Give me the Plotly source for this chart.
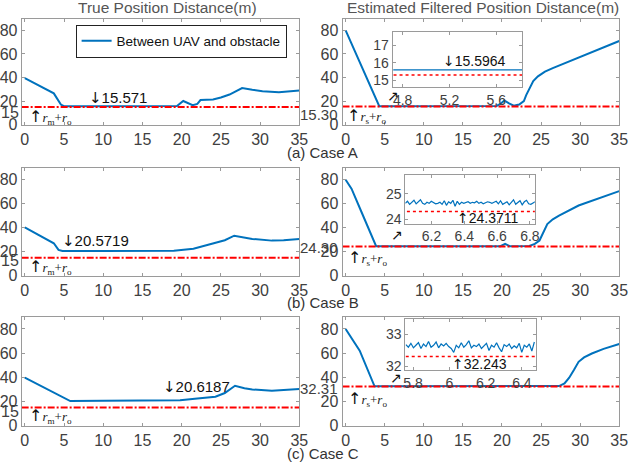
import plotly.graph_objects as go

W, H = 640, 471

# Case A
t_a_true = [0, 3.7, 4.6, 5.0, 10, 15, 19.4, 20.2, 20.8, 21.4, 22.0, 22.4, 24.0, 25.0, 26.1, 27.7, 29.0, 30.3, 32.4, 35]
d_a_true = [39.5, 26.5, 17.0, 15.6, 15.6, 15.6, 15.7, 20.0, 18.0, 16.5, 17.5, 20.8, 21.4, 23.0, 25.5, 31.0, 29.5, 28.4, 27.5, 28.9]
t_a_est = [0, 2, 4.3, 5, 10, 15, 19.3, 19.8, 20.3, 20.9, 21.5, 22.2, 22.8, 23.1, 23.5, 24.0, 24.6, 25.5, 26.5, 28, 30.6, 33, 35]
d_a_est = [80, 50, 15.6, 15.6, 15.6, 15.6, 15.8, 17.5, 20.5, 18, 16, 17, 20, 25, 31, 37, 41, 45, 48, 52, 59, 65.5, 71]

# Case B
t_b_true = [0, 3.7, 4.3, 4.8, 10, 15, 19, 21.5, 24, 25.5, 26.7, 28, 29, 31.5, 33, 35]
d_b_true = [40.2, 27, 21.5, 20.6, 20.6, 20.6, 20.8, 22.4, 26.5, 29.5, 33.3, 31.5, 30.6, 29.2, 29.5, 30.6]
t_b_est = [0, 0.75, 2, 3.9, 10, 15, 19.8, 20.4, 21, 23.5, 24.2, 24.8, 25.3, 25.8, 26.5, 27.3, 29.8, 32, 35]
d_b_est = [80, 72.5, 53.5, 24.5, 24.5, 24.5, 24.6, 26.5, 24.6, 24.7, 26.5, 29.3, 36, 43, 47, 50, 58.5, 63.5, 70.5]

# Case C
t_c_true = [0, 3.8, 5.8, 10, 15, 18, 19.8, 22, 24.3, 25.5, 26.8, 28, 29, 31.5, 33, 35]
d_c_true = [39.8, 26.7, 20.4, 20.6, 20.6, 20.6, 21, 22.5, 24, 27, 33, 31, 30, 29, 29.3, 30.3]
t_c_est = [0, 1.8, 3.7, 10, 15, 20, 25, 27.3, 28, 28.6, 29.2, 29.8, 30.5, 31.5, 33, 35]
d_c_est = [80, 62, 32.6, 32.6, 32.6, 32.6, 32.6, 32.8, 35, 39.7, 46, 52.8, 56.5, 59.7, 63.5, 67.5]

# safety distances (r_m + r_o, r_s + r_o)
safe_true = 15
safe_est = [15.30, 24.30, 32.31]
min_true = ["15.571", "20.5719", "20.6187"]
min_est = ["15.5964", "24.3711", "32.243"]

# zoomed windows
t_zoom_a = [4.72, 5.0, 5.3, 5.6, 5.82]
d_zoom_a = [15.5964, 15.5964, 15.5964, 15.5964, 15.5964]
d_zoom_b = [24.62, 24.70, 24.58, 24.66, 24.74, 24.60, 24.68, 24.76, 24.62, 24.58, 24.66, 24.62, 24.70,
            24.64, 24.60, 24.62, 24.66, 24.58, 24.72, 24.54, 24.68, 24.62, 24.74, 24.50, 24.70, 24.58,
            24.66, 24.62, 24.64, 24.68, 24.62, 24.66, 24.64, 24.70, 24.62, 24.66, 24.60, 24.64, 24.68,
            24.66, 24.62, 24.66, 24.70, 24.60, 24.72, 24.58, 24.64, 24.68, 24.56, 24.66, 24.76, 24.58,
            24.64, 24.72, 24.56, 24.68, 24.74, 24.60, 24.58, 24.64, 24.68]
t_zoom_b = [round(6.04 + 0.0132 * i, 4) for i in range(len(d_zoom_b))]
d_zoom_c = [32.68, 32.60, 32.72, 32.58, 32.66, 32.74, 32.56, 32.70, 32.62, 32.78, 32.60, 32.66, 32.76,
            32.58, 32.70, 32.64, 32.72, 32.62, 32.56, 32.44, 32.66, 32.58, 32.74, 32.60, 32.68, 32.80,
            32.58, 32.66, 32.62, 32.70, 32.56, 32.64, 32.72, 32.50, 32.66, 32.60, 32.74, 32.58, 32.46,
            32.68, 32.62, 32.70, 32.56, 32.64, 32.58, 32.72, 32.44, 32.66, 32.60, 32.70, 32.48, 32.76]
t_zoom_c = [round(5.76 + 0.0139 * i, 4) for i in range(len(d_zoom_c))]

BLUE = "#0072BD"
RED = "#FF0000"
GRAY = "#404040"
FRAME = "#9a9a9a"
FONT = "Liberation Sans"
DASHDOT = "7px,2px,2px,2px"


def px(x):
    return x / W


def py(y):
    return 1 - y / H


def arrow(ch, size):
    return f"<span style='font-family:DejaVu Sans;font-size:{size}px;color:#111111'>{ch}</span>"


fig = go.Figure()

main = [(t_a_true, d_a_true, t_a_est, d_a_est),
        (t_b_true, d_b_true, t_b_est, d_b_est),
        (t_c_true, d_c_true, t_c_est, d_c_est)]

for r, (tt, dt, te, de) in enumerate(main):
    xl, xr = 2 * r + 1, 2 * r + 2
    fig.add_trace(go.Scatter(x=tt, y=dt, mode="lines", line=dict(color=BLUE, width=2),
                             name="Between UAV and obstacle", showlegend=(r == 0),
                             xaxis=f"x{xl}", yaxis=f"y{xl}"))
    fig.add_trace(go.Scatter(x=[-0.4, 35], y=[safe_true, safe_true], mode="lines",
                             line=dict(color=RED, width=2, dash=DASHDOT), showlegend=False,
                             xaxis=f"x{xl}", yaxis=f"y{xl}"))
    fig.add_trace(go.Scatter(x=te, y=de, mode="lines", line=dict(color=BLUE, width=2),
                             showlegend=False, xaxis=f"x{xr}", yaxis=f"y{xr}"))
    fig.add_trace(go.Scatter(x=[-0.4, 35], y=[safe_est[r], safe_est[r]], mode="lines",
                             line=dict(color=RED, width=2, dash=DASHDOT), showlegend=False,
                             xaxis=f"x{xr}", yaxis=f"y{xr}"))

zooms = [(t_zoom_a, d_zoom_a), (t_zoom_b, d_zoom_b), (t_zoom_c, d_zoom_c)]
for i, (tz, dz) in enumerate(zooms):
    n = 7 + i
    fig.add_trace(go.Scatter(x=tz, y=dz, mode="lines", line=dict(color=BLUE, width=1.2),
                             showlegend=False, xaxis=f"x{n}", yaxis=f"y{n}"))
    fig.add_trace(go.Scatter(x=[tz[0] - 0.1, tz[-1] + 0.1], y=[safe_est[i], safe_est[i]], mode="lines",
                             line=dict(color=RED, width=1.5, dash="dot"), showlegend=False,
                             xaxis=f"x{n}", yaxis=f"y{n}"))


def axes(n, xdom, ydom, xrange, yrange, xticks, yticks, size):
    common = dict(showline=True, linecolor=FRAME, linewidth=1, mirror="ticks", ticks="inside",
                  ticklen=3, tickcolor=FRAME, showgrid=False, zeroline=False,
                  tickfont=dict(size=size, color=GRAY, family=FONT))
    suffix = "" if n == 1 else str(n)
    fig.layout["xaxis" + suffix] = dict(domain=xdom, range=xrange, tickvals=xticks,
                                        anchor="y" + suffix, **common)
    fig.layout["yaxis" + suffix] = dict(domain=ydom, range=yrange, tickvals=yticks,
                                        anchor="x" + suffix, **common)


left = [px(19), px(302)]
right = [px(346), px(628)]
rows = [[py(127), py(19)], [py(281), py(171)], [py(434), py(323)]]
xt = [0, 5, 10, 15, 20, 25, 30, 35]
yt = [0, 20, 40, 60, 80]
for r in range(3):
    axes(2 * r + 1, left, rows[r], [-0.4, 35], [0, 90], xt, yt, 16)
    axes(2 * r + 2, right, rows[r], [-0.4, 35], [0, 90], xt, yt, 16)

axes(7, [px(397), px(529)], [py(89), py(33)], [4.714, 5.82], [14.6, 17.75], [4.8, 5.2, 5.6], [15, 16, 17], 14)
axes(8, [px(410), px(542)], [py(228), py(178)], [6.04, 6.83], [23.82, 25.75], [6.2, 6.4, 6.6, 6.8], [24, 25], 14)
axes(9, [px(410), px(543)], [py(377), py(325)], [5.757, 6.477], [31.9, 33.48], [5.8, 6, 6.2, 6.4], [32, 33], 14)

ann = []


def note(text, x, y, xanchor="left", size=14, color="#111111"):
    ann.append(dict(text=text, x=px(x), y=py(y), xref="paper", yref="paper", xanchor=xanchor,
                    yanchor="middle", showarrow=False, font=dict(size=size, color=color, family=FONT)))


r_true = arrow("↑", 16) + "<i>r</i><sub>m</sub>+<i>r</i><sub>o</sub>"
r_est = arrow("↑", 16) + "<i>r</i><sub>s</sub>+<i>r</i><sub>o</sub>"

note("True Position Distance(m)", 168, 8, "center", 15.5, "#555555")
note("Estimated Filtered Position Distance(m)", 489, 8, "center", 15.5, "#555555")
for cap, y in [("(a) Case A", 155), ("(b) Case B", 308), ("(c) Case C", 462)]:
    note(cap, 326, y, "center", 15, "#333333")

# left column
for y15, (xm, ym), (xr, yr), m in zip([115, 266, 420], [(86, 100), (58, 246), (161, 395)],
                                      [(24, 119), (24, 272), (24, 424)], min_true):
    note(str(safe_true), 18, y15, "right", 16, GRAY)
    note(arrow("↓", 15) + m, xm, ym, "left", 15)
    ann.append(dict(text=r_true, x=px(xr), y=py(yr), xref="paper", yref="paper", xanchor="left",
                    yanchor="middle", showarrow=False,
                    font=dict(size=13, color="#222222", family="Liberation Serif")))

# right column
for s, ys, (xr, yr), (xa, ya) in zip(safe_est, [117, 252, 396], [(349, 118), (350, 263), (350, 407)],
                                     [(397, 98), (402, 240), (400, 385)]):
    note(f"{s:.2f}", 343, ys, "right", 15, GRAY)
    ann.append(dict(text=r_est, x=px(xr), y=py(yr), xref="paper", yref="paper", xanchor="left",
                    yanchor="middle", showarrow=False,
                    font=dict(size=13, color="#222222", family="Liberation Serif")))
    note(arrow("↗", 14), xa, ya, "center", 14)

note(arrow("↓", 14) + min_est[0], 446, 62, "left", 14)
note(arrow("↑", 14) + min_est[1], 461, 222, "left", 14)
note(arrow("↑", 14) + min_est[2], 456, 371, "left", 14)

fig.update_layout(
    width=W, height=H,
    margin=dict(l=0, r=0, t=0, b=0),
    paper_bgcolor="white", plot_bgcolor="white",
    font=dict(family=FONT, color=GRAY),
    annotations=ann,
    legend=dict(x=px(74), y=py(25), xanchor="left", yanchor="top", bgcolor="white",
                bordercolor="#222222", borderwidth=1, font=dict(size=13.5, color="#111111", family=FONT)),
)

# drop the browser's default body margin so the 640x471 figure fills the window
fig.write_html("out.html", config={"displayModeBar": False},
               post_script="document.body.style.margin='0';")
